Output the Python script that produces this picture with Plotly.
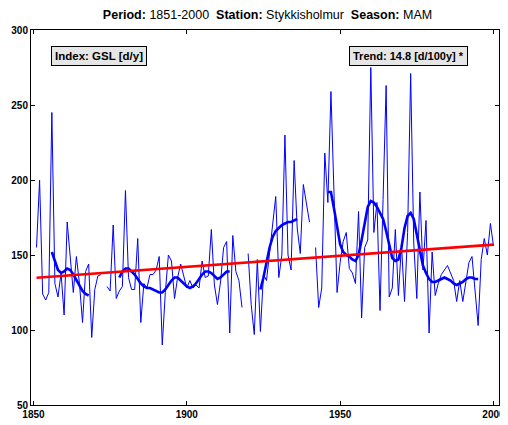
import plotly.graph_objects as go

years = list(range(1851, 2001))
gsl = [
    155, 200, 124, 120, 125, 245, 131, 122, 138, 110,   # 1851-1860
    172, 150, 125, 149, 131, 105, 139, 144, 95, 127,    # 1861-1870
    136, 137, None, 129, 126, 170, 121, 126, 129, 193,  # 1871-1880
    135, 127, 127, 161, 105, 131, 128, 137, 137, 140,   # 1881-1890
    149, 90, 125, 150, 146, 121, 135, 144, 136, 128,    # 1891-1900
    133, 128, 130, 128, 146, 135, 136, 167, 130, 117,   # 1901-1910
    132, 155, 159, 98, 163, 139, 133, 115, None, 151,   # 1911-1920
    117, 97, 147, 99, 137, 133, 152, 171, 189, 135,     # 1921-1930
    150, 230, 150, 140, 213, 168, 151, 197, 185, 172,   # 1931-1940
    None, 155, 115, 128, 218, 185, 259, 191, 125, 145,  # 1941-1950
    159, 165, 141, 138, 131, 179, 108, 155, 160, 275,   # 1951-1960
    165, 185, 113, 187, 263, 122, 128, 167, 123, 157,   # 1961-1970
    119, 165, 271, 158, 121, 192, 140, 173, 98, 152,    # 1971-1980
    123, 131, 137, 140, 143, 138, 133, 119, 133, 119,   # 1981-1990
    133, 145, 149, 128, 103, 147, 161, 150, 171, 156,   # 1991-2000
]

smooth = [
    None, None, None, None, None, 152, 146, 140, 138, 139,   # 1851-1860
    141, 140, 137, 133, 129, 126, 124, 123, None, None,      # 1861-1870
    None, None, None, None, None, None, None, 135, 139, 141,  # 1871-1880
    141, 139, 137, 134, 131, 129, 128, 128, 127, 126,        # 1881-1890
    125, 125, 127, 130, 133, 135, 135, 133, 131, 129,        # 1891-1900
    128, 129, 131, 134, 137, 139, 139, 138, 136, 134,        # 1901-1910
    135, 137, 139, 139, None, None, None, None, None, None,  # 1911-1920
    None, None, None, 127, 135, 145, 155, 162, 166, 168,     # 1921-1930
    170, 171, 172, 172, 173, 174, None, None, None, None,    # 1931-1940
    None, None, None, None, None, 192, 192, 181, 168, 157,   # 1941-1950
    152, 150, 149, 147, 146, 150, 160, 172, 182, 186,        # 1951-1960
    185, 182, 178, 174, 166, 156, 148, 146, 147, 155,        # 1961-1970
    168, 176, 178, 174, 164, 152, 143, 138, 134, 132,        # 1971-1980
    132, 133, 134, 135, 134, 133, 131, 130, 131, 132,        # 1981-1990
    134, 135, 135, 134, 134, None, None, None, None, None,   # 1991-2000
]

trend_years = [1851, 2000]
trend_values = [134.8, 156.9]

x_ticks = [1850, 1900, 1950, 2000]
y_ticks = [50, 100, 150, 200, 250, 300]

fig = go.Figure()
fig.add_trace(go.Scatter(x=years, y=gsl, mode="lines",
                         line=dict(color="#0000ff", width=1), connectgaps=False,
                         hoverinfo="skip"))
fig.add_trace(go.Scatter(x=years, y=smooth, mode="lines",
                         line=dict(color="#0000ff", width=2.6), connectgaps=False,
                         hoverinfo="skip"))
fig.add_trace(go.Scatter(x=trend_years, y=trend_values, mode="lines",
                         line=dict(color="#ff0000", width=2.6), hoverinfo="skip"))

font_family = "Liberation Sans, Arial, Helvetica, sans-serif"

# page body has an 8px margin: figure is 500x417 placed at (8, 8)
W, H = 500, 417
ML, MR, MT, MB = 22, 3, 22, 20
PW, PH = W - ML - MR, H - MT - MB


def px_x(page_x):
    return (page_x - 8 - ML) / PW


def px_y(page_y):
    return 1 - (page_y - 8 - MT) / PH


fig.update_layout(
    width=W, height=H,
    margin=dict(l=ML, r=MR, t=MT, b=MB),
    paper_bgcolor="white", plot_bgcolor="white",
    showlegend=False,
    font=dict(family=font_family, color="black"),
    title=dict(
        text="<b>Period:</b> 1851-2000&nbsp;&nbsp;<b>Station:</b> Stykkisholmur&nbsp;&nbsp;<b>Season:</b> MAM",
        x=(267.5 - 8) / W, xanchor="center", y=1 - (15 - 8) / H, yanchor="middle",
        font=dict(size=12.5, family=font_family, color="black"),
    ),
    xaxis=dict(
        range=[1849.2, 2001.8], tickvals=x_ticks, ticktext=[str(v) for v in x_ticks],
        ticks="inside", ticklen=4, tickcolor="black", showgrid=False, zeroline=False,
        showline=True, linecolor="black", linewidth=1, mirror="ticks",
        ticklabeloverflow="allow",
        tickfont=dict(size=10, weight="bold", family=font_family),
    ),
    yaxis=dict(
        range=[50, 300], tickvals=y_ticks, ticktext=[str(v) for v in y_ticks],
        ticks="inside", ticklen=4, tickcolor="black", showgrid=False, zeroline=False,
        showline=True, linecolor="black", linewidth=1, mirror="ticks",
        tickfont=dict(size=10, weight="bold", family=font_family),
    ),
    annotations=[
        dict(text="<b>Index: GSL [d/y]</b>", xref="paper", yref="paper",
             x=px_x(50), y=px_y(46), xanchor="left", yanchor="top",
             showarrow=False, bgcolor="#e6e6e6", bordercolor="black", borderwidth=1,
             borderpad=3, font=dict(size=11.5, family=font_family, color="black")),
        dict(text="<b>Trend: 14.8 [d/100y] *</b>", xref="paper", yref="paper",
             x=px_x(474), y=px_y(46), xanchor="right", yanchor="top",
             showarrow=False, bgcolor="#e6e6e6", bordercolor="black", borderwidth=1,
             borderpad=3, font=dict(size=11, family=font_family, color="black")),
    ],
)

fig.write_html("out.html")
